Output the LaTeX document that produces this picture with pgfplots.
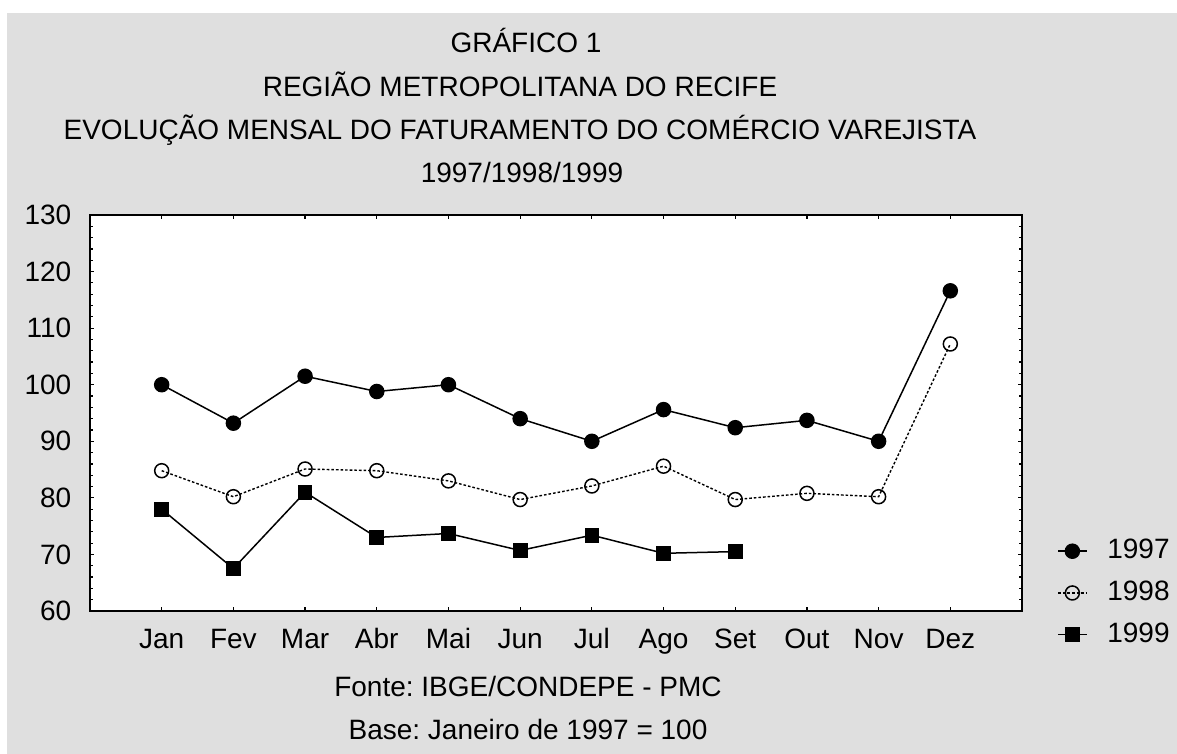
\documentclass[border=0pt]{standalone}
\usepackage{pgfplots}
\pgfplotsset{compat=1.18}
\usepackage{fontspec}
\setmainfont{Liberation Sans}
\definecolor{bggray}{HTML}{DFDFDF}
\pgfplotstableread{
x y
1 100.0
2 93.2
3 101.5
4 98.8
5 100.0
6 94.0
7 90.0
8 95.6
9 92.4
10 93.7
11 90.0
12 116.6
}\tA
\pgfplotstableread{
x y
1 84.8
2 80.2
3 85.1
4 84.8
5 83.0
6 79.7
7 82.1
8 85.6
9 79.7
10 80.8
11 80.2
12 107.2
}\tB
\pgfplotstableread{
x y
1 78.0
2 67.5
3 81.0
4 73.0
5 73.7
6 70.7
7 73.4
8 70.2
9 70.5
}\tC
\begin{document}
\frenchspacing
\fontsize{14}{16}\selectfont
\begin{tikzpicture}
\fill[bggray] (-41.5pt,-71.5pt) rectangle (543.5pt,299pt);
\path[use as bounding box] (-45pt,-71.5pt) rectangle (543.5pt,305.5pt);
\begin{axis}[
  anchor=south west, at={(0pt,0pt)},
  scale only axis, width=466pt, height=198pt,
  xmin=0, xmax=13, ymin=60, ymax=130,
  xtick={1,...,12},
  xticklabels={Jan,Fev,Mar,Abr,Mai,Jun,Jul,Ago,Set,Out,Nov,Dez},
  ytick={60,70,...,130},
  minor y tick num=4,
  tick align=inside,
  major tick length=2.2pt, minor tick length=1.6pt,
  every tick/.style={black, line width=0.6pt},
  axis line style={line width=0.9pt},
  axis background/.style={fill=white},
  /pgf/number format/assume math mode=true,
  font=\fontsize{14}{16}\selectfont,
  xticklabel style={yshift=-4pt, text height=10pt, text depth=3pt},
  yticklabel style={xshift=-4.5pt},
  legend style={at={(1,0)}, anchor=south west, xshift=17.5pt, yshift=-20pt,
    draw=none, fill=none, inner sep=0pt, row sep=5pt,
    font=\fontsize{14}{16}\selectfont,
    /tikz/every odd column/.append style={column sep=8pt}},
  legend cell align=left,
  legend image code/.code={\draw[mark repeat=2,mark phase=2,#1] plot coordinates {(0cm,0cm)(0.25cm,0cm)(0.5cm,0cm)};},
]
\addplot[black, line width=0.75pt, mark=*, mark size=3.5pt, mark options={solid,fill=black}] table[x=x,y=y] {\tA};
\addlegendentry{1997}
\addplot[black, line width=0.7pt, dash pattern=on 1.3pt off 1pt, mark=o, mark size=3.5pt, mark options={solid,fill=white,line width=0.75pt}] table[x=x,y=y] {\tB};
\addlegendentry{1998}
\addplot[black, line width=0.75pt, mark=square*, mark size=3.3pt, mark options={solid,fill=black}] table[x=x,y=y] {\tC};
\addlegendentry{1999}
\end{axis}
\node[anchor=base] at (218pt,279pt) {GRÁFICO 1};
\node[anchor=base] at (215pt,257pt) {REGIÃO METROPOLITANA DO RECIFE};
\node[anchor=base] at (215pt,235.5pt) {EVOLUÇÃO MENSAL DO FATURAMENTO DO COMÉRCIO VAREJISTA};
\node[anchor=base] at (216pt,214pt) {1997/1998/1999};
\node[anchor=base] at (219pt,-43pt) {Fonte: IBGE/CONDEPE - PMC};
\node[anchor=base] at (219pt,-64pt) {Base: Janeiro de 1997 = 100};
\end{tikzpicture}
\end{document}
